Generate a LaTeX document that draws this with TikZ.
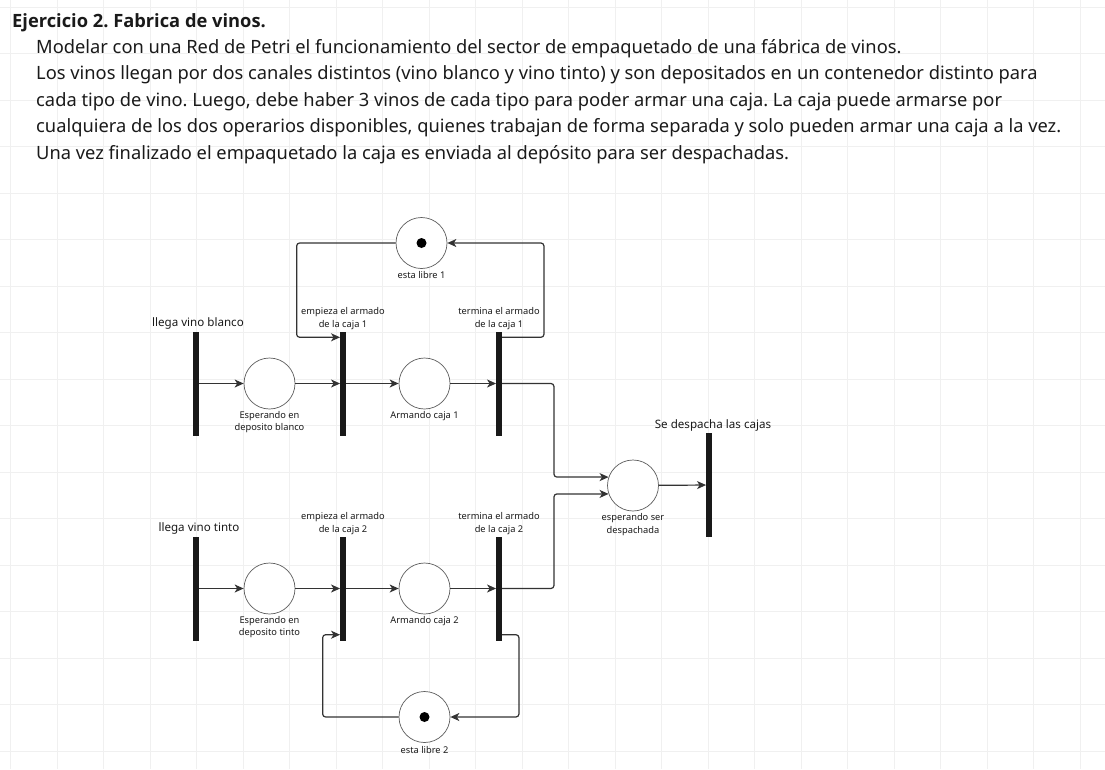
\documentclass[tikz,border=0pt]{standalone}
\usepackage{fontspec}
\setmainfont{Noto Sans}
\newfontfamily\titlefont{Open Sans}
\usetikzlibrary{arrows.meta,calc}
\definecolor{ln}{HTML}{333333}
\definecolor{gridc}{HTML}{F0F0F0}
\definecolor{txt}{HTML}{1A1A1A}
\tikzset{
  trans/.style={rectangle,fill=black!90,draw=none,minimum width=5.5pt,minimum height=104pt,inner sep=0pt},
  place/.style={circle,draw=ln!80,line width=0.7pt,minimum size=51pt,inner sep=0pt,fill=white},
  tok/.style={circle,fill=black,minimum size=10pt,inner sep=0pt},
  arr/.style={draw=ln,line width=1.2pt,rounded corners=3pt,-{Stealth[length=9pt,width=8pt,inset=2.5pt]}},
  small/.style={font=\fontsize{9.3}{12.5}\selectfont,text=txt,align=center,inner sep=0pt},
  big/.style={font=\fontsize{11.6}{14}\selectfont,text=txt,inner sep=0pt},
  body/.style={font=\fontsize{18.3}{22}\selectfont,text=txt,anchor=base west,inner sep=0pt},
}
\frenchspacing
\begin{document}
\begin{tikzpicture}[x=1pt,y=-1pt]
\useasboundingbox (0,0) rectangle (1105,769);
\fill[white] (0,0) rectangle (1105,769);
% faint grid
\foreach \gx in {10.5,57,103.5,...,1105} {\draw[gridc,line width=0.8pt] (\gx,0) -- (\gx,769);}
\foreach \gy in {7,53.5,100,...,769} {\draw[gridc,line width=0.8pt] (0,\gy) -- (1105,\gy);}
% text
\node[body,font=\fontsize{18.3}{22}\titlefont\bfseries] (title) at (12,27) {Ejercicio 2. Fabrica de vinos.};
\node[body] (l1) at (36,53) {Modelar con una Red de Petri el funcionamiento del sector de empaquetado de una fábrica de vinos.};
\node[body] (l2) at (36,79.5) {Los vinos llegan por dos canales distintos (vino blanco y vino tinto) y son depositados en un contenedor distinto para};
\node[body] (l3) at (36,106) {cada tipo de vino. Luego, debe haber 3 vinos de cada tipo para poder armar una caja. La caja puede armarse por};
\node[body] (l4) at (36,132.5) {cualquiera de los dos operarios disponibles, quienes trabajan de forma separada y solo pueden armar una caja a la vez.};
\node[body] (l5) at (36,159) {Una vez finalizado el empaquetado la caja es enviada al depósito para ser despachadas.};
% transitions
\node[trans] (t1) at (196,383.5) {};
\node[trans] (t2) at (343,383.5) {};
\node[trans] (t3) at (499,383.5) {};
\node[trans] (t4) at (196,588.5) {};
\node[trans] (t5) at (343,588.5) {};
\node[trans] (t6) at (499,588.5) {};
\node[trans] (t7) at (709,485) {};
% places
\node[place] (p1) at (269.5,383.5) {};
\node[place] (p2) at (424.5,383.5) {};
\node[place] (f1) at (421.5,243) {};
\node[tok] (k1) at (f1) {};
\node[place] (p3) at (269.5,588.5) {};
\node[place] (p4) at (424.5,588.5) {};
\node[place] (f2) at (424.5,717) {};
\node[tok] (k2) at (f2) {};
\node[place] (pd) at (633,485.5) {};
% labels
\node[big] (lt1) at (198,323) {llega vino blanco};
\node[small] (lp1) at (269.5,422) {Esperando en\\deposito blanco};
\node[small] (lt2) at (343,318.5) {empieza el armado\\de la caja 1};
\node[small] (lf1) at (421.5,275) {esta libre 1};
\node[small] (lt3) at (499,318.5) {termina el armado\\de la caja 1};
\node[small] (lp2) at (424.5,416) {Armando caja 1};
\node[big] (lt7) at (713,425) {Se despacha las cajas};
\node[small] (lpd) at (633,524.5) {esperando ser\\despachada};
\node[big] (lt4) at (199,528) {llega vino tinto};
\node[small] (lt5) at (343,523.5) {empieza el armado\\de la caja 2};
\node[small] (lt6) at (499,523.5) {termina el armado\\de la caja 2};
\node[small] (lp3) at (269.5,627) {Esperando en\\deposito tinto};
\node[small] (lp4) at (424.5,621) {Armando caja 2};
\node[small] (lf2) at (424.5,750) {esta libre 2};
% arcs
\draw[arr] (t1) -- (p1);
\draw[arr] (p1) -- (t2);
\draw[arr] (t2) -- (p2);
\draw[arr] (p2) -- (t3);
\draw[arr] (t4) -- (p3);
\draw[arr] (p3) -- (t5);
\draw[arr] (t5) -- (p4);
\draw[arr] (p4) -- (t6);
\draw[arr] (pd) -- (t7);
\draw[arr] (t3.east) -- ++(52,0) |- (pd.161);
\draw[arr] (t6.east) -- ++(52,0) |- (pd.199);
\draw[arr] ([yshift=-6pt]t3.north east) -- ++(42,0) |- (f1.east);
\draw[arr] (f1.west) -- ++(-99,0) |- ([yshift=-6pt]t2.north west);
\draw[arr] ([yshift=6pt]t6.south east) -- ++(17,0) |- (f2.east);
\draw[arr] (f2.west) -- ++(-76,0) |- ([yshift=6pt]t5.south west);
\end{tikzpicture}
\end{document}
